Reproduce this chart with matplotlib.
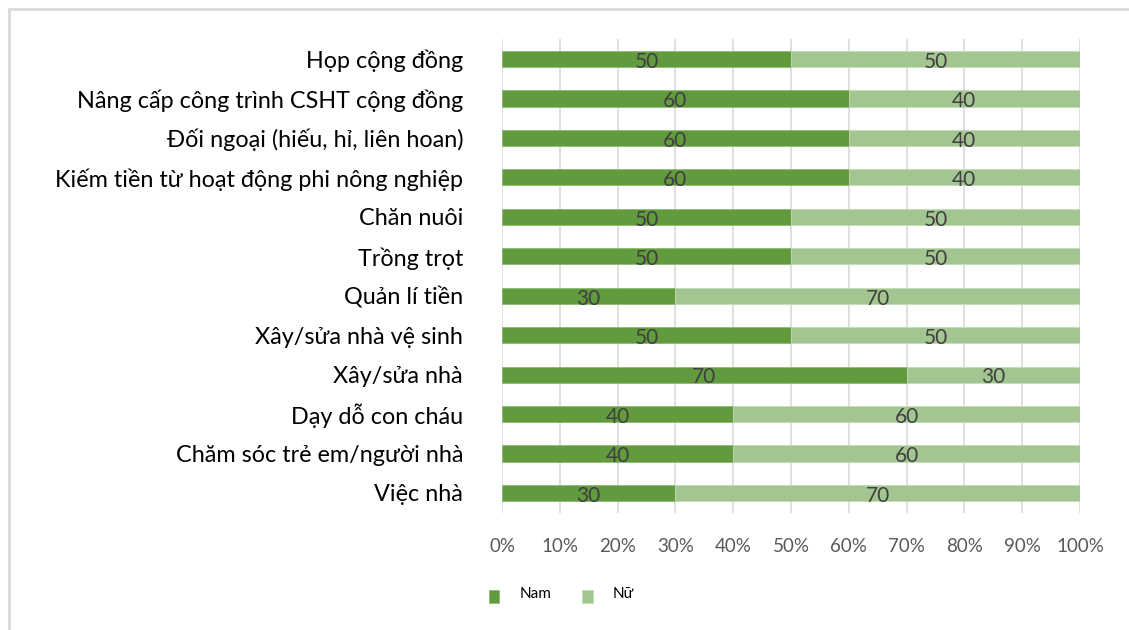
import numpy as np
import matplotlib.pyplot as plt
from matplotlib.patches import Rectangle

plt.rcParams['font.family'] = ['Lato', 'DejaVu Sans']

categories = [
    "Họp cộng đồng",
    "Nâng cấp công trình CSHT cộng đồng",
    "Đối ngoại (hiếu, hỉ, liên hoan)",
    "Kiếm tiền từ hoạt động phi nông nghiệp",
    "Chăn nuôi",
    "Trồng trọt",
    "Quản lí tiền",
    "Xây/sửa nhà vệ sinh",
    "Xây/sửa nhà",
    "Dạy dỗ con cháu",
    "Chăm sóc trẻ em/người nhà",
    "Việc nhà",
]
nam = [50, 60, 60, 60, 50, 50, 30, 50, 70, 40, 40, 30]
nu = [50, 40, 40, 40, 50, 50, 70, 50, 30, 60, 60, 70]
series_names = ["Nam", "Nữ"]
tick_labels = ["0%", "10%", "20%", "30%", "40%", "50%", "60%", "70%", "80%", "90%", "100%"]

c_nam = "#629A3E"
c_nu = "#A3C691"

fig = plt.figure(figsize=(11.29, 6.30), dpi=100)
W, H = 1129, 630

# chart frame (only top and left edges fall inside the picture)
fig.patches.append(Rectangle((9 / W, -0.1), 1.2, 1 - 9 / H + 0.1, transform=fig.transFigure,
                             fill=False, edgecolor="#D9D9D9", linewidth=2.0))

ax = fig.add_axes([502 / W, 1 - 512.7 / H, 578 / W, (512.7 - 39.3) / H])

nam_a = np.array(nam, dtype=float)
nu_a = np.array(nu, dtype=float)
total = nam_a + nu_a
y = np.arange(len(categories))

b1 = ax.barh(y, nam_a / total, height=0.41, color=c_nam, label=series_names[0],
             edgecolor="#8DBB73", linewidth=0.6, zorder=3)
b2 = ax.barh(y, nu_a / total, left=nam_a / total, height=0.41, color=c_nu,
             label=series_names[1], edgecolor="#C2DBB5", linewidth=0.6, zorder=3)

for bars, vals in ((b1, nam), (b2, nu)):
    for rect, v in zip(bars, vals):
        cx = rect.get_x() + rect.get_width() / 2
        cy = rect.get_y() + rect.get_height() / 2
        ax.annotate(str(v), (cx, cy), xytext=(0, -2), textcoords="offset points",
                    ha="center", va="center", fontsize=15, color="#404040", zorder=4)

ax.set_xlim(0, 1)
ax.set_ylim(len(categories) - 0.5, -0.5)
ax.set_xticks(np.linspace(0, 1, 11))
ax.set_xticklabels(tick_labels)
ax.set_yticks(y)
ax.set_yticklabels(categories)
ax.tick_params(axis="x", length=0, labelsize=13.5, labelcolor="#595959", pad=18)
ax.tick_params(axis="y", length=0, labelsize=16.8, labelcolor="#000000", pad=28)
ax.grid(axis="x", color="#D9D9D9", linewidth=1.2, zorder=0)
ax.set_axisbelow(True)
for s in ax.spines.values():
    s.set_visible(False)

leg = fig.legend(handles=[b1, b2], labels=series_names, loc="center left",
                 bbox_to_anchor=(481 / W, 1 - 597 / H), ncol=2, frameon=False,
                 fontsize=11, borderpad=0, handlelength=0.7, handleheight=0.95,
                 columnspacing=2.05, handletextpad=1.3)
for t in leg.get_texts():
    t.set_va("bottom")

fig.savefig("out.png", dpi=100)
